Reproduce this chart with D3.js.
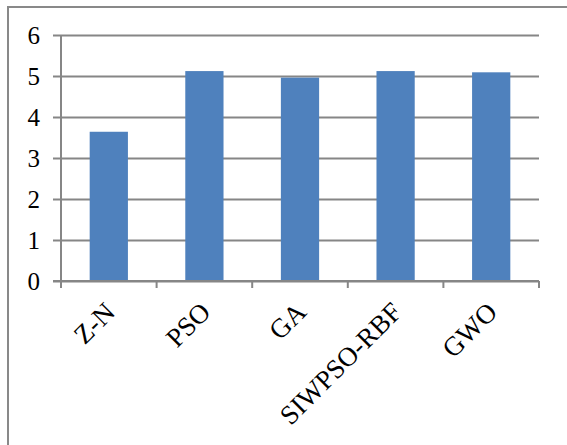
<!DOCTYPE html>
<html>
<head>
<meta charset="utf-8">
<script src="https://cdn.jsdelivr.net/npm/d3@7"></script>
<style>
  html, body { margin: 0; padding: 0; background: #fff; }
  svg { display: block; }
  text { font-family: "Liberation Serif", "Times New Roman", Tinos, serif; }
</style>
</head>
<body>
<svg id="chart" width="567" height="445"></svg>
<script>
// Tuning results per method
const categories = ["Z-N", "PSO", "GA", "SIWPSO-RBF", "GWO"];
const values = [3.64, 5.12, 4.96, 5.12, 5.09];
const yTicks = [0, 1, 2, 3, 4, 5, 6];

const W = 567, H = 445;
const plot = { left: 61, right: 539, top: 35, bottom: 281 };
const gridColor = "#868686";
const barColor = "#4F81BD";

const svg = d3.select("#chart");

// outer frame (left and top edges visible)
svg.append("path")
  .attr("d", `M8,${H} L8,7 L${W},7`)
  .attr("fill", "none")
  .attr("stroke", "#898989")
  .attr("stroke-width", 2);

const x = d3.scaleBand()
  .domain(categories)
  .range([plot.left, plot.right])
  .paddingInner(0.6)
  .paddingOuter(0.3);

const y = d3.scaleLinear()
  .domain([0, 6])
  .range([plot.bottom, plot.top]);

// horizontal gridlines with left ticks
const yAxis = d3.axisLeft(y)
  .tickValues(yTicks)
  .tickSize(-(plot.right - plot.left))
  .tickSizeOuter(0)
  .tickPadding(0)
  .tickFormat(d3.format("d"));

const gy = svg.append("g")
  .attr("transform", `translate(${plot.left},0)`)
  .call(yAxis);
gy.attr("font-family", null);
gy.select(".domain").remove();
gy.selectAll(".tick line")
  .attr("x1", -8)
  .attr("stroke", gridColor)
  .attr("stroke-width", 2);
gy.selectAll(".tick text")
  .attr("x", -21)
  .attr("dy", "0.34em")
  .attr("fill", "#000")
  .style("font-size", "25px");

// vertical axis line
svg.append("line")
  .attr("x1", plot.left).attr("x2", plot.left)
  .attr("y1", plot.top).attr("y2", plot.bottom)
  .attr("stroke", gridColor)
  .attr("stroke-width", 2);

// bars
svg.append("g")
  .selectAll("rect")
  .data(values)
  .join("rect")
  .attr("x", (d, i) => x(categories[i]))
  .attr("y", d => y(d))
  .attr("width", x.bandwidth())
  .attr("height", d => y(0) - y(d))
  .attr("fill", barColor);

// category axis: tick marks at band boundaries
const boundaries = d3.range(categories.length + 1).map(i => plot.left + i * (plot.right - plot.left) / categories.length);
svg.append("line")
  .attr("x1", plot.left - 8).attr("x2", plot.right)
  .attr("y1", plot.bottom).attr("y2", plot.bottom)
  .attr("stroke", gridColor)
  .attr("stroke-width", 2);
svg.append("g")
  .selectAll("line")
  .data(boundaries)
  .join("line")
  .attr("x1", d => d).attr("x2", d => d)
  .attr("y1", plot.bottom).attr("y2", plot.bottom + 7)
  .attr("stroke", gridColor)
  .attr("stroke-width", 2);

// rotated category labels
svg.append("g")
  .selectAll("text")
  .data(categories)
  .join("text")
  .attr("transform", d => `translate(${x(d) + x.bandwidth() / 2 + 1},${plot.bottom + 26}) rotate(-45)`)
  .attr("text-anchor", "end")
  .attr("dy", "0.35em")
  .attr("fill", "#000")
  .style("font-size", "27px")
  .text(d => d);
</script>
</body>
</html>
